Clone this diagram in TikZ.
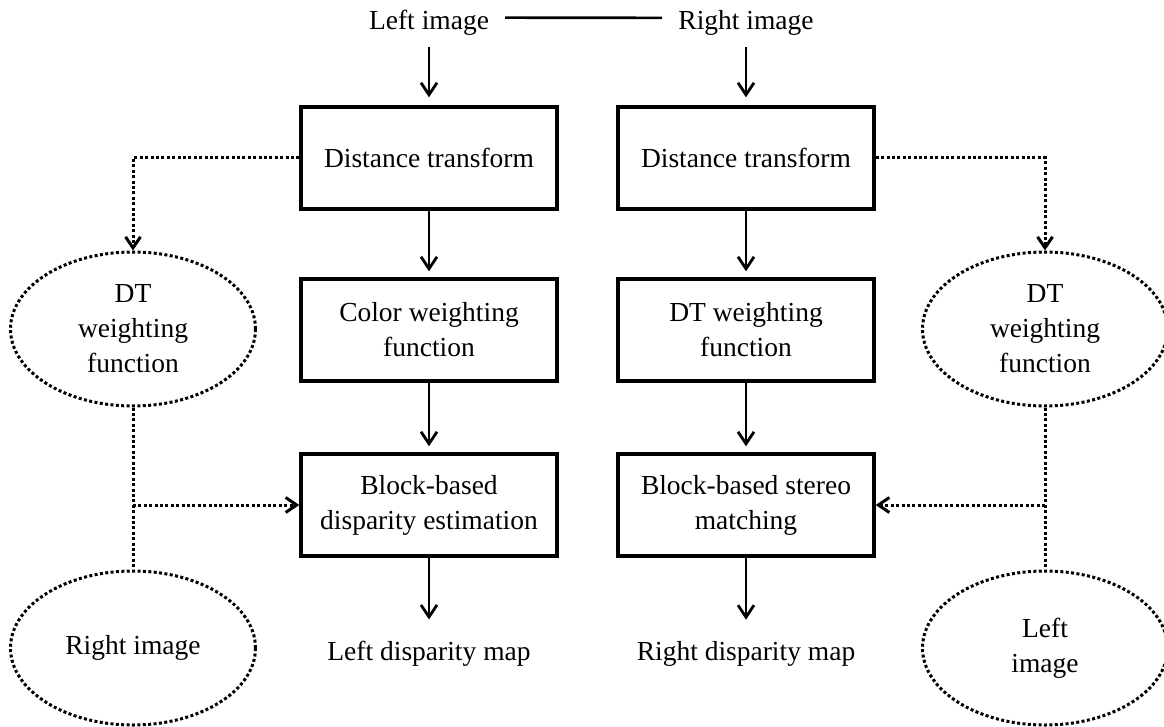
\documentclass[tikz,border=0pt]{standalone}
\usepackage{fontspec}
\setmainfont{Liberation Serif}
\usetikzlibrary{arrows.meta,shapes.geometric}
\begin{document}
\begin{tikzpicture}[x=1pt,y=-1pt,
  font=\fontsize{27.5}{35}\selectfont,
  box/.style={draw,line width=3.4pt,minimum width=256pt,minimum height=102pt,inner sep=0pt,align=center},
  oval/.style={draw,ellipse,line width=3pt,dash pattern=on 3pt off 2.4pt,minimum width=245pt,minimum height=154pt,inner sep=0pt,align=center},
  lbl/.style={inner xsep=16pt,inner ysep=11pt,anchor=base},
  flow/.style={-{Straight Barb[length=12pt,width=16pt]},line width=2.8pt},
  dotline/.style={line width=3pt,dash pattern=on 3pt off 2.4pt},
  dotarrow/.style={dotline,-{Straight Barb[length=11pt,width=15pt]}}
]
\useasboundingbox (0,0) rectangle (1164,727);
\clip (0,0) rectangle (1164,727);

\node[lbl] (LI) at (429,30) {Left image};
\node[lbl] (RI) at (746,30) {Right image};

\node[box] (b1L) at (429,158) {Distance transform};
\node[box] (b2L) at (429,330) {Color weighting\\function};
\node[box] (b3L) at (429,505) {Block-based\\disparity estimation};

\node[box] (b1R) at (746,158) {Distance transform};
\node[box] (b2R) at (746,330) {DT weighting\\function};
\node[box] (b3R) at (746,505) {Block-based stereo\\matching};

\node[lbl] (LD) at (429,660) {Left disparity map};
\node[lbl] (RD) at (746,660) {Right disparity map};

\node[oval] (e1) at (133,329) {DT\\weighting\\function};
\node[oval] (e2) at (133,648) {Right image};
\node[oval] (e3) at (1045,329) {DT\\weighting\\function};
\node[oval] (e4) at (1045,648) {Left\\image};

% top connector
\draw[line width=2.6pt] ([yshift=5.6pt]LI.east) -- ([yshift=5.6pt]RI.west);

% solid flow arrows
\draw[flow,shorten >=8pt] (LI.south) -- (b1L.north);
\draw[flow,shorten >=8pt] (RI.south) -- (b1R.north);
\draw[flow,shorten >=6pt] (b1L.south) -- (b2L.north);
\draw[flow,shorten >=6pt] (b2L.south) -- (b3L.north);
\draw[flow,shorten >=6pt] (b1R.south) -- (b2R.north);
\draw[flow,shorten >=6pt] (b2R.south) -- (b3R.north);
\draw[flow,shorten >=10pt] (b3L.south) -- (LD.north);
\draw[flow,shorten >=10pt] (b3R.south) -- (RD.north);

% dotted connectors, left
\draw[dotarrow] (b1L.west) -| (e1.north);
\draw[dotline] (e1.south) -- (e2.north);
\draw[dotarrow] (e1.south |- b3L.west) -- (b3L.west);

% dotted connectors, right
\draw[dotarrow] (b1R.east) -| (e3.north);
\draw[dotline] (e3.south) -- (e4.north);
\draw[dotarrow] (e3.south |- b3R.east) -- (b3R.east);
\end{tikzpicture}
\end{document}
